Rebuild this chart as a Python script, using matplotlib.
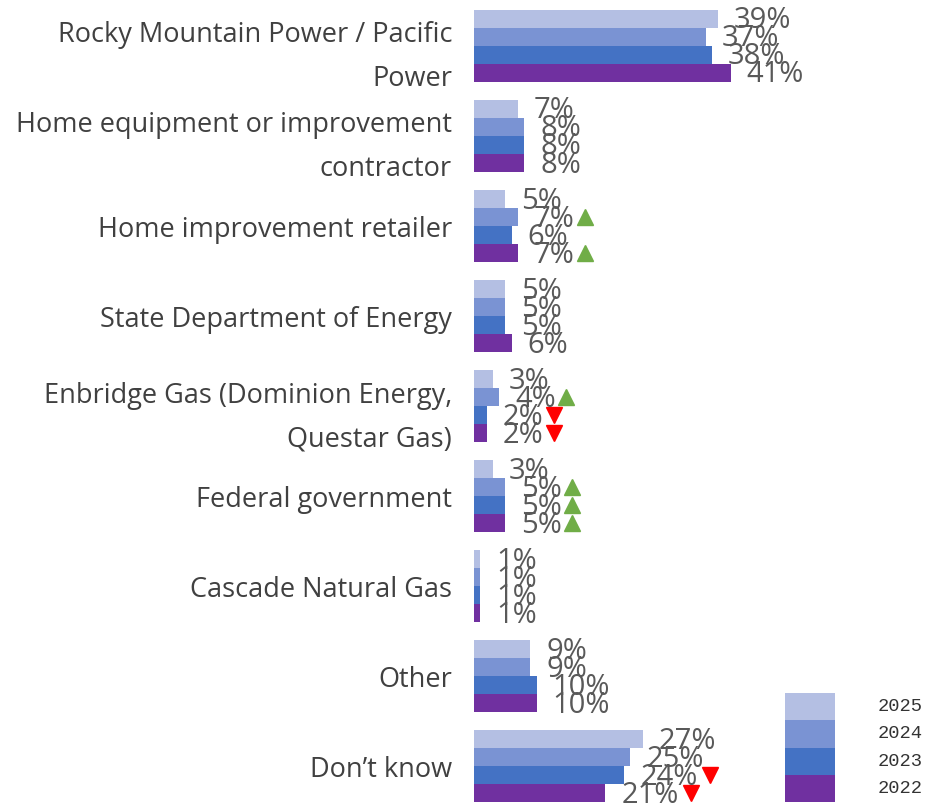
import numpy as np
import matplotlib
matplotlib.use("Agg")
import matplotlib.pyplot as plt
from matplotlib.transforms import ScaledTranslation

categories = [
    "Rocky Mountain Power / Pacific\nPower",
    "Home equipment or improvement\ncontractor",
    "Home improvement retailer",
    "State Department of Energy",
    "Enbridge Gas (Dominion Energy,\nQuestar Gas)",
    "Federal government",
    "Cascade Natural Gas",
    "Other",
    "Don\u2019t know",
]
years = ["2025", "2024", "2023", "2022"]
v2025 = [39, 7, 5, 5, 3, 3, 1, 9, 27]
v2024 = [37, 8, 7, 5, 4, 5, 1, 9, 25]
v2023 = [38, 8, 6, 5, 2, 5, 1, 10, 24]
v2022 = [41, 8, 7, 6, 2, 5, 1, 10, 21]
# significance markers: +1 up (green), -1 down (red), 0 none
s2025 = [0, 0, 0, 0, 0, 0, 0, 0, 0]
s2024 = [0, 0, 1, 0, 1, 1, 0, 0, 0]
s2023 = [0, 0, 0, 0, -1, 1, 0, 0, -1]
s2022 = [0, 0, 1, 0, -1, 1, 0, 0, -1]
colors = ["#B4BFE3", "#7A93D3", "#4472C4", "#7030A0"]

series = [v2025, v2024, v2023, v2022]
sigs = [s2025, s2024, s2023, s2022]

fig = plt.figure(figsize=(9.34, 8.06), dpi=100)
ax = fig.add_axes([0.5075, 0.0, 0.4925, 1.0])

y = np.arange(len(categories))
h = 0.2
offsets = [-0.3, -0.1, 0.1, 0.3]
px = 0.72  # points per pixel at 100 dpi

for vals, sig, col, off in zip(series, sigs, colors, offsets):
    ax.barh(y + off, vals, height=h, color=col)
    for yi, v, s in zip(y, vals, sig):
        lab = f"{v}%"
        ax.annotate(lab, (v, yi + off), xytext=(16 * px, -2 * px), textcoords="offset points",
                    va="center", ha="left", fontsize=21, color="#595959",
                    family="Open Sans")
        if s:
            dx = (30 + 18.5 * len(lab)) / 100
            ax.plot([v], [yi + off], linestyle="none",
                    marker="^" if s > 0 else "v", markersize=12,
                    color="#70AD47" if s > 0 else "#FF0000",
                    transform=ax.transData + ScaledTranslation(dx, 0, fig.dpi_scale_trans))

ax.set_xlim(0, 73.5)
ax.set_ylim(8.44, -0.51)
ax.set_yticks(y)
ax.set_yticklabels(categories, fontsize=19.5, color="#404040", family="Open Sans",
                   linespacing=1.75)
ax.tick_params(axis="y", length=0, pad=22 * px)
ax.set_xticks([])
for sp in ax.spines.values():
    sp.set_visible(False)

# legend block
lax = fig.add_axes([785 / 934, 1 - 802 / 806, 50 / 934, 109 / 806])
lax.barh(np.arange(4), 1, height=1, color=colors)
lax.set_ylim(3.5, -0.5)
lax.set_xlim(0, 1)
lax.axis("off")
for i, yr in enumerate(years):
    lax.text(1.85, i, yr, va="center", ha="left", fontsize=13.5, color="#333333",
             family="Liberation Mono")

fig.savefig("out.png", dpi=100)
